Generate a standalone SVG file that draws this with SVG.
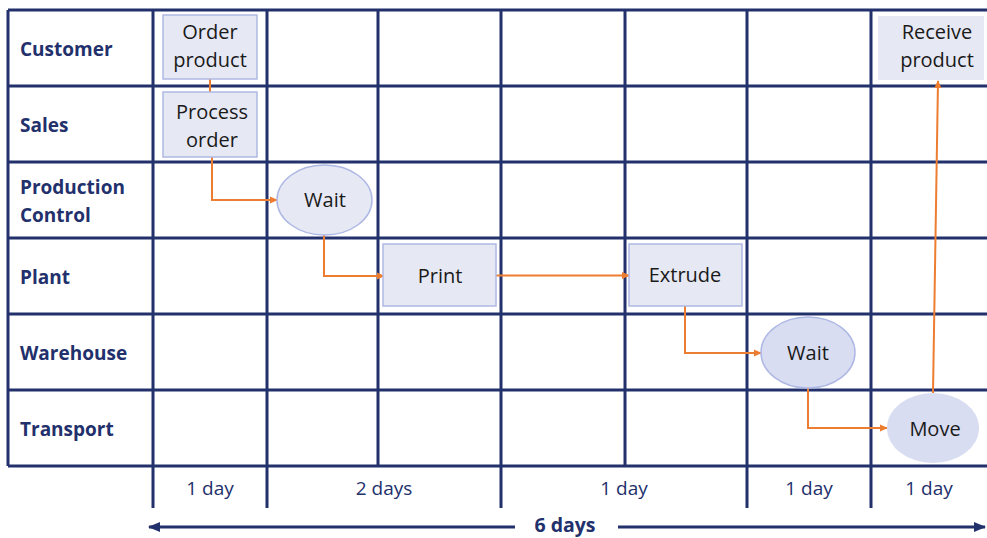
<svg xmlns="http://www.w3.org/2000/svg" width="987" height="538" viewBox="0 0 987 538">
<style>
.grid{stroke:#22306c;stroke-width:3;fill:none}
.lane{font-family:"Open Sans",Lato,sans-serif;font-weight:bold;font-size:19px;fill:#22306c}
.day{font-family:"Open Sans",Lato,sans-serif;font-size:19px;fill:#22306c;text-anchor:middle}
.nt{font-family:"Open Sans",Lato,sans-serif;font-size:20px;fill:#1a1a1a;text-anchor:middle}
.box{fill:#e6e8f4;stroke:#aeb8e4;stroke-width:1.5}
.conn{stroke:#ed7d31;stroke-width:2;fill:none}
</style>
<defs>
<marker id="oa" markerWidth="8" markerHeight="8" refX="7" refY="4" orient="auto" markerUnits="userSpaceOnUse">
<path d="M0,0.5 L8,4 L0,7.5 Z" fill="#ed7d31"/>
</marker>
<marker id="na" markerWidth="12" markerHeight="10" refX="11" refY="5" orient="auto" markerUnits="userSpaceOnUse">
<path d="M0,0 L12,5 L0,10 Z" fill="#22306c"/>
</marker>
</defs>
<rect width="987" height="538" fill="#ffffff"/>
<g id="grid" class="grid">
<path d="M8,10 H987 M8,86 H987 M8,162 H987 M8,238 H987 M8,314 H987 M8,390 H987 M8,466 H987"/>
<path d="M8,10 V466 M378,10 V466 M625,10 V466"/>
<path d="M153,10 V508 M267,10 V508 M501,10 V508 M747,10 V508 M871,10 V508"/>
</g>
<g id="lanes">
<text class="lane" x="20" y="56">Customer</text>
<text class="lane" x="20" y="132">Sales</text>
<text class="lane" x="20" y="194">Production</text>
<text class="lane" x="20" y="222">Control</text>
<text class="lane" x="20" y="284">Plant</text>
<text class="lane" x="20" y="360">Warehouse</text>
<text class="lane" x="20" y="436">Transport</text>
</g>
<g id="days">
<text class="day" x="210" y="495">1 day</text>
<text class="day" x="384" y="495">2 days</text>
<text class="day" x="624" y="495">1 day</text>
<text class="day" x="809" y="495">1 day</text>
<text class="day" x="929" y="495">1 day</text>
</g>
<g id="connectors">
<path class="conn" d="M210,79 V92" stroke-width="3"/>
<path class="conn" d="M212,157 V200 H277" marker-end="url(#oa)"/>
<path class="conn" d="M324,235 V276 H384" marker-end="url(#oa)"/>
<path class="conn" d="M496,275.5 H629" marker-end="url(#oa)"/>
<path class="conn" d="M685,306 V353 H761" marker-end="url(#oa)"/>
<path class="conn" d="M808,388 V428 H887" marker-end="url(#oa)"/>
<path class="conn" d="M933,393 L938,81" marker-end="url(#oa)"/>
</g>
<g id="order-product">
<rect class="box" x="163" y="15" width="94" height="64"/>
<text class="nt" x="210" y="39">Order</text>
<text class="nt" x="210" y="67">product</text>
</g>
<g id="process-order">
<rect class="box" x="163" y="92" width="94" height="65"/>
<text class="nt" x="212" y="119">Process</text>
<text class="nt" x="212" y="147">order</text>
</g>
<g id="wait1">
<ellipse cx="324.5" cy="200" rx="47.5" ry="35" fill="#e6e8f4" stroke="#aeb8e4" stroke-width="1.5"/>
<text class="nt" x="325" y="207">Wait</text>
</g>
<g id="print">
<rect class="box" x="383" y="244" width="113" height="62"/>
<text class="nt" x="440" y="283">Print</text>
</g>
<g id="extrude">
<rect class="box" x="629" y="244" width="113" height="62"/>
<text class="nt" x="685" y="282">Extrude</text>
</g>
<g id="wait2">
<ellipse cx="808" cy="352.5" rx="47" ry="35.5" fill="#d9ddf1" stroke="#aeb8e4" stroke-width="1.5"/>
<text class="nt" x="808" y="360">Wait</text>
</g>
<g id="move">
<ellipse cx="933" cy="428" rx="46" ry="35" fill="#d9ddf1"/>
<text class="nt" x="935" y="436">Move</text>
</g>
<g id="receive-product">
<rect x="878" y="16" width="106" height="64" fill="#e6e8f4"/>
<text class="nt" x="937" y="39">Receive</text>
<text class="nt" x="937" y="67">product</text>
</g>
<g id="timeline">
<path d="M515,527 H149" stroke="#22306c" stroke-width="3" marker-end="url(#na)"/>
<path d="M618,527 H985" stroke="#22306c" stroke-width="3" marker-end="url(#na)"/>
<text x="565" y="532" font-family="'Open Sans',Lato,sans-serif" font-weight="bold" font-size="19.5px" fill="#22306c" text-anchor="middle">6 days</text>
</g>
</svg>
